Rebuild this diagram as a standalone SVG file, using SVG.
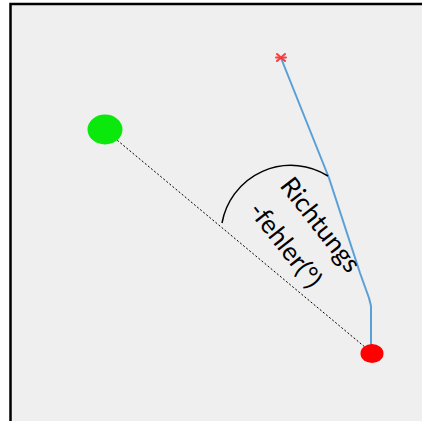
<svg xmlns="http://www.w3.org/2000/svg" width="422" height="421" viewBox="0 0 422 421">
  <style>
    .lbl { font-family: Lato, "Open Sans", "Noto Sans", sans-serif; font-size: 26px; fill: #000; }
    .dash { stroke: #000; stroke-width: 1; stroke-dasharray: 2 2; fill: none; }
    .track { stroke: #5aa0d8; stroke-width: 2; fill: none; stroke-linejoin: round; }
    .arc { stroke: #000; stroke-width: 1.5; fill: none; }
  </style>
  <rect x="0" y="0" width="422" height="421" fill="#ffffff"/>
  <rect id="frame" x="10.5" y="4" width="430" height="430" fill="#efefef" stroke="#000" stroke-width="2.5"/>
  <g id="connectors">
    <line class="dash" x1="105" y1="130" x2="372" y2="353"/>
    <polyline class="track" points="281,58 329,178 360,273 369,298 371,306 371,357"/>
    <path class="arc" d="M222,223 A70,70 0 0 1 328,176"/>
  </g>
  <g id="start">
    <ellipse cx="105" cy="129.5" rx="17.5" ry="15" fill="#0be80b"/>
  </g>
  <g id="target">
    <ellipse cx="372" cy="353.5" rx="11.5" ry="9.5" fill="#ff0000"/>
  </g>
  <g id="star" stroke="#ff2020" stroke-width="2" stroke-linecap="round" opacity="0.85">
    <line x1="277" y1="54" x2="285" y2="61"/>
    <line x1="285" y1="54" x2="277" y2="61"/>
    <line x1="276" y1="57.5" x2="286" y2="57.5"/>
  </g>
  <g id="label" transform="translate(279,186) rotate(52)">
    <text class="lbl" x="0" y="0">Richtungs</text>
    <text class="lbl" x="0" y="40">-fehler(°)</text>
  </g>
</svg>
